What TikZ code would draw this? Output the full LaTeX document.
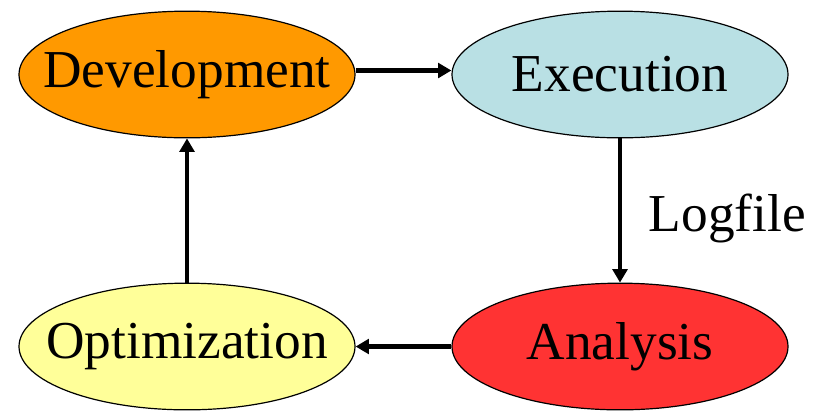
\documentclass[tikz,border=0pt]{standalone}
\usepackage{fontspec}
\setmainfont{Liberation Serif}
\usetikzlibrary{shapes.geometric,arrows.meta}

\definecolor{devorange}{HTML}{FF9900}
\definecolor{exeblue}{HTML}{B9E0E4}
\definecolor{anared}{HTML}{FF3333}
\definecolor{optyellow}{HTML}{FFFF99}

\tikzset{
  phase/.style={ellipse, draw=black, line width=0.9pt, inner sep=0pt,
    minimum width=252pt, minimum height=95pt,
    font=\fontsize{40}{44}\selectfont},
  flow/.style={line width=3.3pt, -{Triangle[length=10pt,width=11pt]}},
}

\newcommand{\phasetext}[1]{\makebox[0pt]{#1}}

\begin{document}
\begin{tikzpicture}[x=0.75pt, y=-0.75pt]
  \useasboundingbox (0,0) rectangle (816,412);

  \node[phase, fill=devorange]  (dev) at (187,74.5)  {\phasetext{Development}};
  \node[phase, fill=exeblue]    (exe) at (620,74.5)  {\phasetext{Execution}};
  \node[phase, fill=anared]     (ana) at (620,346.5) {\phasetext{Analysis}};
  \node[phase, fill=optyellow]  (opt) at (187,346.5) {\phasetext{Optimization}};

  \draw[flow] ([yshift=3pt]dev.east) -- ([yshift=3pt]exe.west);
  \draw[flow] (exe.south) -- node[name=logfile, anchor=west, inner sep=0pt,
      xshift=20pt, yshift=-6pt, font=\fontsize{40}{44}\selectfont] {Logfile} (ana.north);
  \draw[flow] (ana.west) -- (opt.east);
  \draw[flow] (opt.north) -- (dev.south);
\end{tikzpicture}
\end{document}
